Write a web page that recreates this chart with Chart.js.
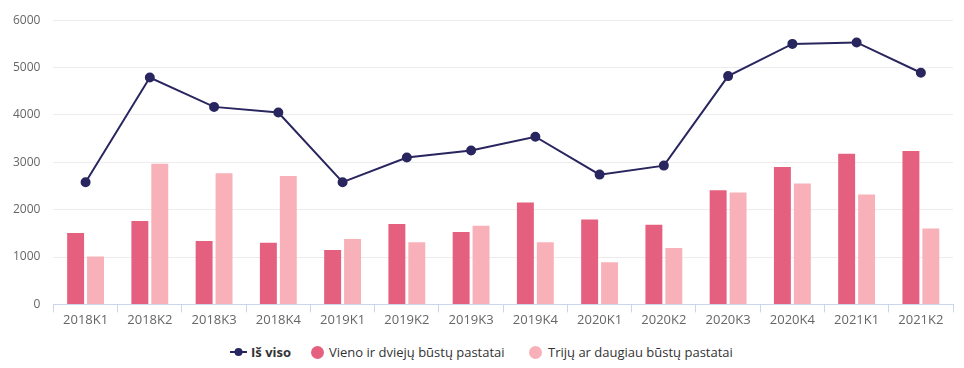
<!DOCTYPE html>
<html>
<head>
<meta charset="utf-8">
<script src="https://cdn.jsdelivr.net/npm/chart.js@4"></script>
<style>
  html, body { margin: 0; padding: 0; background: #fff; }
  #wrap { position: relative; width: 964px; height: 368px; }
  #box { position: absolute; left: 0; top: 0; width: 964px; height: 328px; }
  #legend { position: absolute; left: 0; top: 342px; width: 964px; height: 20px;
    font-family: "Open Sans", sans-serif; font-size: 13px; color: #333; }
  .item { position: absolute; top: 0; height: 20px; line-height: 20px; white-space: nowrap; }
  .dot { position: absolute; top: 4px; width: 13px; height: 13px; border-radius: 7px; }
</style>
</head>
<body>
<div id="wrap">
  <div id="box"><canvas id="chart"></canvas></div>
  <div id="legend">
    <div class="item" style="left:230px;">
      <canvas id="lineMark" width="18" height="20" style="position:absolute;left:0;top:0"></canvas>
      <span style="position:absolute;left:21px;font-weight:bold;">Iš viso</span>
    </div>
    <div class="item" style="left:311px;">
      <span class="dot" style="left:0;background:#e5607f"></span>
      <span style="position:absolute;left:18px;">Vieno ir dviejų būstų pastatai</span>
    </div>
    <div class="item" style="left:529px;">
      <span class="dot" style="left:0;background:#f8b1b8"></span>
      <span style="position:absolute;left:19px;">Trijų ar daugiau būstų pastatai</span>
    </div>
  </div>
</div>
<script>
const quarters = ['2018K1','2018K2','2018K3','2018K4','2019K1','2019K2','2019K3','2019K4',
                  '2020K1','2020K2','2020K3','2020K4','2021K1','2021K2'];
const total    = [2580, 4790, 4170, 4050, 2580, 3100, 3250, 3540, 2740, 2930, 4820, 5500, 5530, 4890];
const oneTwo   = [1510, 1760, 1340, 1300, 1150, 1700, 1530, 2150, 1790, 1680, 2410, 2900, 3180, 3240];
const threePlus= [1010, 2970, 2770, 2710, 1380, 1310, 1660, 1310, 890, 1190, 2360, 2550, 2320, 1600];
const yTicks   = [0, 1000, 2000, 3000, 4000, 5000, 6000];

const navy = '#29265f';
const pinkDark = '#e5607f';
const pinkLight = '#f8b1b8';
const font = '"Open Sans", sans-serif';

// legend marker for the line series
const lm = document.getElementById('lineMark').getContext('2d');
lm.strokeStyle = navy; lm.lineWidth = 2;
lm.beginPath(); lm.moveTo(0, 10); lm.lineTo(17, 10); lm.stroke();
lm.fillStyle = navy;
lm.beginPath(); lm.arc(8.5, 10, 4, 0, Math.PI * 2); lm.fill();

new Chart(document.getElementById('chart'), {
    data: {
        labels: quarters,
        datasets: [
            {
                type: 'line',
                label: 'Iš viso',
                data: total,
                borderColor: navy,
                backgroundColor: navy,
                borderWidth: 2,
                pointRadius: 4,
                pointHoverRadius: 4,
                tension: 0,
                order: 0
            },
            {
                type: 'bar',
                label: 'Vieno ir dviejų būstų pastatai',
                data: oneTwo,
                backgroundColor: pinkDark,
                categoryPercentage: 0.62,
                barPercentage: 0.85,
                order: 1
            },
            {
                type: 'bar',
                label: 'Trijų ar daugiau būstų pastatai',
                data: threePlus,
                backgroundColor: pinkLight,
                categoryPercentage: 0.62,
                barPercentage: 0.85,
                order: 1
            }
        ]
    },
    options: {
        responsive: true,
        maintainAspectRatio: false,
        animation: false,
        layout: { padding: { left: 0, right: 11, top: 1, bottom: 0 } },
        plugins: {
            legend: { display: false },
            tooltip: { enabled: false }
        },
        scales: {
            x: {
                offset: true,
                grid: { offset: true, drawOnChartArea: false, color: '#ccd6eb', tickLength: 8 },
                border: { color: '#ccd6eb' },
                ticks: { color: '#666', font: { family: font, size: 13 }, padding: 0, maxRotation: 0 }
            },
            y: {
                min: 0,
                max: 6000,
                afterBuildTicks: axis => { axis.ticks = yTicks.map(v => ({ value: v })); },
                grid: { color: '#ececec', drawTicks: false },
                border: { display: false },
                ticks: { color: '#666', font: { family: font, size: 12 }, padding: 13,
                         callback: v => String(v) }
            }
        }
    }
});
</script>
</body>
</html>
